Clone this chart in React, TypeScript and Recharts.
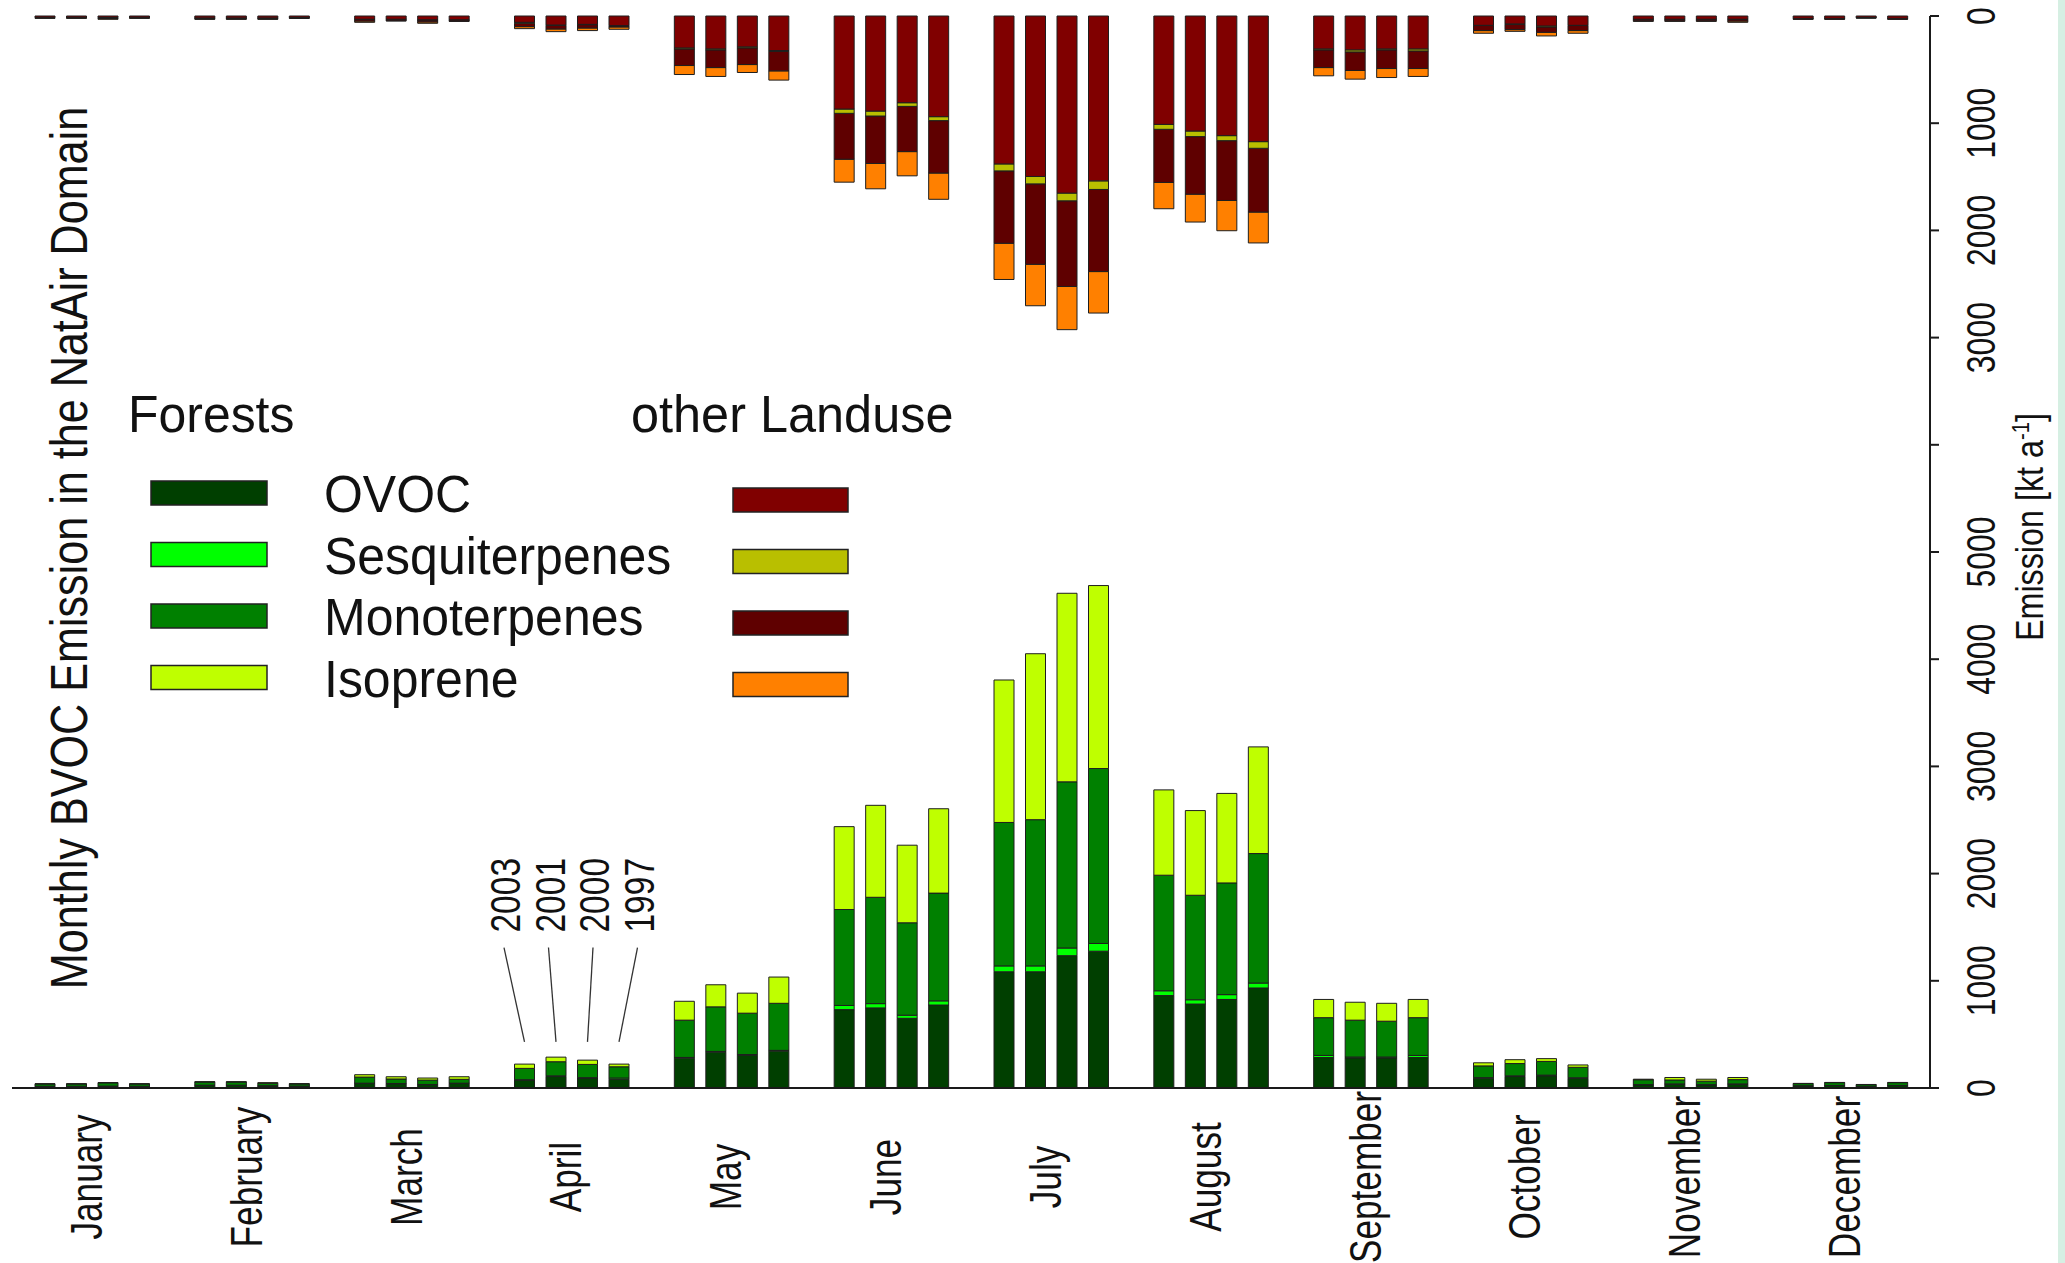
import React from "react";
import { Bar, BarChart, LabelList, XAxis, YAxis } from "recharts";

const months = [
  "January", "February", "March", "April", "May", "June",
  "July", "August", "September", "October", "November", "December",
];
const years = ["2003", "2001", "2000", "1997"];

// kt per month, one row per month, columns follow `years`
const forestOvoc = [
  [15, 15, 17, 15], [25, 25, 20, 17], [43, 40, 31, 43], [74, 109, 93, 81],
  [277, 333, 304, 343], [731, 747, 650, 774], [1084, 1084, 1234, 1276], [862, 783, 826, 933],
  [284, 281, 281, 284], [91, 108, 114, 91], [30, 36, 29, 36], [20, 23, 16, 23],
];
const forestSesq = [
  [1, 1, 1, 1], [1, 1, 1, 1], [2, 2, 2, 2], [3, 4, 3, 12],
  [8, 8, 8, 8], [39, 40, 29, 39], [55, 55, 72, 72], [45, 40, 45, 46],
  [20, 8, 8, 20], [5, 5, 6, 4], [2, 2, 2, 2], [1, 1, 1, 1],
];
const forestMono = [
  [22, 22, 30, 22], [30, 30, 22, 20], [57, 42, 41, 36], [106, 132, 124, 105],
  [348, 416, 386, 439], [895, 992, 862, 1005], [1338, 1364, 1550, 1632], [1078, 975, 1042, 1208],
  [352, 344, 334, 352], [110, 115, 128, 98], [45, 37, 33, 40], [20, 26, 15, 26],
];
const forestIso = [
  [2, 2, 3, 2], [3, 3, 7, 3], [22, 21, 19, 24], [40, 43, 40, 25],
  [176, 206, 187, 245], [773, 858, 724, 787], [1329, 1548, 1759, 1707], [796, 790, 835, 995],
  [170, 167, 167, 170], [29, 36, 26, 22], [5, 23, 18, 20], [2, 2, 1, 2],
];

const otherOvoc = [
  [12, 12, 14, 12], [18, 18, 18, 14], [30, 30, 35, 35], [59, 84, 78, 90],
  [298, 307, 288, 322], [868, 887, 809, 939], [1380, 1497, 1652, 1538], [1011, 1073, 1116, 1172],
  [307, 316, 307, 307], [87, 74, 93, 87], [30, 30, 30, 30], [22, 22, 14, 22],
];
const otherSesq = [
  [1, 1, 1, 1], [1, 1, 1, 1], [1, 1, 2, 1], [9, 3, 3, 2],
  [9, 9, 9, 9], [40, 46, 34, 37], [65, 69, 72, 80], [46, 52, 47, 62],
  [9, 19, 9, 19], [2, 2, 9, 2], [1, 1, 1, 1], [1, 1, 1, 1],
];
const otherMono = [
  [5, 5, 7, 5], [8, 8, 8, 5], [16, 13, 18, 12], [31, 34, 31, 10],
  [155, 165, 156, 181], [428, 443, 422, 489], [675, 750, 799, 766], [496, 537, 558, 595],
  [165, 173, 174, 164], [47, 51, 50, 47], [14, 14, 14, 16], [6, 6, 3, 6],
];
const otherIso = [
  [4, 4, 9, 4], [4, 4, 4, 2], [12, 2, 13, 2], [19, 25, 24, 22],
  [84, 83, 74, 86], [214, 236, 226, 245], [338, 387, 403, 387], [245, 260, 282, 288],
  [77, 81, 84, 74], [25, 16, 34, 25], [5, 5, 5, 12], [2, 2, 1, 2],
];

const bottomTicks = [0, 1000, 2000, 3000, 4000, 5000];
const topTicks = [0, 1000, 2000, 3000];
const unlabeledTicks = [6000];

// the "other Landuse" panel hangs from this value of the shared axis
const TOP = 10000;
const LABEL_MONTH = 3; // April carries the year labels

const FONT = '"Liberation Sans", Arial, Helvetica, sans-serif';

const forestSeries = [
  { key: "fOvoc", name: "OVOC", color: "#003f00", values: forestOvoc },
  { key: "fSesq", name: "Sesquiterpenes", color: "#00ff00", values: forestSesq },
  { key: "fMono", name: "Monoterpenes", color: "#008000", values: forestMono },
  { key: "fIso", name: "Isoprene", color: "#bfff00", values: forestIso },
];
const otherSeries = [
  { key: "oOvoc", name: "OVOC", color: "#800000", values: otherOvoc },
  { key: "oSesq", name: "Sesquiterpenes", color: "#b9bf00", values: otherSesq },
  { key: "oMono", name: "Monoterpenes", color: "#5f0000", values: otherMono },
  { key: "oIso", name: "Isoprene", color: "#ff8000", values: otherIso },
];

const data = months.map((month, m) => {
  const row: Record<string, string | number> = { month };
  years.forEach((year, y) => {
    let total = 0;
    [...forestSeries, ...otherSeries].forEach((s) => {
      row[`${s.key}_${year}`] = s.values[m][y];
      total += s.values[m][y];
    });
    row[`gap_${year}`] = TOP - total;
  });
  return row;
});

const axisTicks = [
  ...bottomTicks,
  ...unlabeledTicks,
  ...topTicks.map((t) => TOP - t),
].sort((a, b) => a - b);

const tickText = (v: number) => {
  if (unlabeledTicks.includes(v)) return "";
  return v <= 5000 ? String(v) : String(TOP - v);
};

const RightTick = (props: any) => {
  const { x, y, payload } = props;
  const label = tickText(payload.value);
  if (!label) return <g />;
  return (
    <text
      transform={`translate(${x + 54},${y}) rotate(-90) scale(0.78,1)`}
      textAnchor="middle"
      fontSize={41}
      fontFamily={FONT}
      fill="#111"
    >
      {label}
    </text>
  );
};

const MonthTick = (props: any) => {
  const { x, y, payload } = props;
  return (
    <text
      transform={`translate(${x + 10},${y + 89}) rotate(-90) scale(0.8,1)`}
      textAnchor="middle"
      fontSize={44}
      fontFamily={FONT}
      fill="#111"
    >
      {payload.value}
    </text>
  );
};

const yearLabel = (yi: number) => (props: any) => {
  if (props.index !== LABEL_MONTH) return null;
  const box = props.viewBox ?? props;
  const { x, y, width, height } = box;
  const perUnit = height / forestOvoc[LABEL_MONTH][yi];
  const base = y + height;
  const cx = x + width / 2;
  const lx = cx + (yi - 1.5) * 13;
  return (
    <g>
      <line
        x1={lx - 1}
        y1={base - 1310 * perUnit}
        x2={cx}
        y2={base - 430 * perUnit}
        stroke="#333"
        strokeWidth={1.3}
      />
      <text
        transform={`translate(${lx + 15},${base - 1450 * perUnit}) rotate(-90) scale(0.78,1)`}
        fontSize={43}
        fontFamily={FONT}
        fill="#111"
      >
        {years[yi]}
      </text>
    </g>
  );
};

function Legend() {
  const rowGap = 61.5;
  return (
    <g fontFamily={FONT} fill="#111">
      <text transform="translate(128,432) scale(0.96,1)" fontSize={52}>Forests</text>
      <text transform="translate(631,432) scale(0.97,1)" fontSize={52}>other Landuse</text>
      {forestSeries.map((s, i) => (
        <g key={s.key}>
          <rect x={151} y={481 + i * rowGap} width={116} height={24} fill={s.color} stroke="#222" strokeWidth={1.5} />
          <text transform={`translate(324,${512 + i * rowGap}) scale(0.98,1)`} fontSize={51}>{s.name}</text>
        </g>
      ))}
      {otherSeries.map((s, i) => (
        <rect key={s.key} x={733} y={488 + i * rowGap} width={115} height={24} fill={s.color} stroke="#222" strokeWidth={1.5} />
      ))}
    </g>
  );
}

export default function App() {
  const bars = years.flatMap((year, yi) => [
    ...forestSeries.map((s) => (
      <Bar
        key={`${s.key}_${year}`}
        dataKey={`${s.key}_${year}`}
        stackId={`y${year}`}
        yAxisId="right"
        fill={s.color}
        stroke="#1e1e1e"
        strokeWidth={1}
        barSize={20}
        isAnimationActive={false}
      >
        {s.key === "fOvoc" && <LabelList dataKey={`${s.key}_${year}`} content={yearLabel(yi)} />}
      </Bar>
    )),
    <Bar
      key={`gap_${year}`}
      dataKey={`gap_${year}`}
      stackId={`y${year}`}
      yAxisId="right"
      fill="none"
      stroke="none"
      barSize={20}
      isAnimationActive={false}
    />,
    ...[...otherSeries].reverse().map((s) => (
      <Bar
        key={`${s.key}_${year}`}
        dataKey={`${s.key}_${year}`}
        stackId={`y${year}`}
        yAxisId="right"
        fill={s.color}
        stroke="#1e1e1e"
        strokeWidth={1}
        barSize={20}
        isAnimationActive={false}
      />
    )),
  ]);

  return (
    <div style={{ position: "absolute", left: 0, top: 0, width: 2065, height: 1263, background: "#fff" }}>
      <BarChart
        width={2065}
        height={1263}
        data={data}
        margin={{ top: 16, right: 0, bottom: 0, left: 12 }}
        barGap={11.5}
      >
        <XAxis
          dataKey="month"
          height={175}
          interval={0}
          tickLine={false}
          tickSize={0}
          tickMargin={0}
          axisLine={{ stroke: "#1a1a1a", strokeWidth: 2 }}
          tick={<MonthTick />}
        />
        <XAxis
          xAxisId="top"
          orientation="top"
          dataKey="month"
          height={0}
          tick={false}
          tickLine={false}
          axisLine={{ stroke: "#1a1a1a", strokeWidth: 2 }}
        />
        <YAxis
          yAxisId="left"
          orientation="left"
          width={0}
          domain={[0, TOP]}
          tick={false}
          tickLine={false}
          axisLine={{ stroke: "#1a1a1a", strokeWidth: 2 }}
        />
        <YAxis
          yAxisId="right"
          orientation="right"
          width={135}
          domain={[0, TOP]}
          ticks={axisTicks}
          interval={0}
          tickSize={9}
          tickLine={{ stroke: "#1a1a1a", strokeWidth: 2 }}
          axisLine={{ stroke: "#1a1a1a", strokeWidth: 2 }}
          tick={<RightTick />}
        />
        {bars}
      </BarChart>
      <svg
        width={2065}
        height={1263}
        style={{ position: "absolute", left: 0, top: 0, pointerEvents: "none" }}
      >
        <text
          transform="translate(87,548) rotate(-90) scale(0.83,1)"
          textAnchor="middle"
          fontSize={52}
          fontFamily={FONT}
          fill="#111"
        >
          Monthly BVOC Emission in the NatAir Domain
        </text>
        <text
          transform="translate(2043,527) rotate(-90) scale(0.85,1)"
          textAnchor="middle"
          fontSize={38}
          fontFamily={FONT}
          fill="#111"
        >
          Emission [kt a<tspan dy={-14} fontSize={24}>-1</tspan>
          <tspan dy={14}>]</tspan>
        </text>
        <Legend />
      </svg>
      <div style={{ position: "absolute", left: 2058, top: 0, width: 7, height: 1263, background: "#d6efe3" }} />
    </div>
  );
}
